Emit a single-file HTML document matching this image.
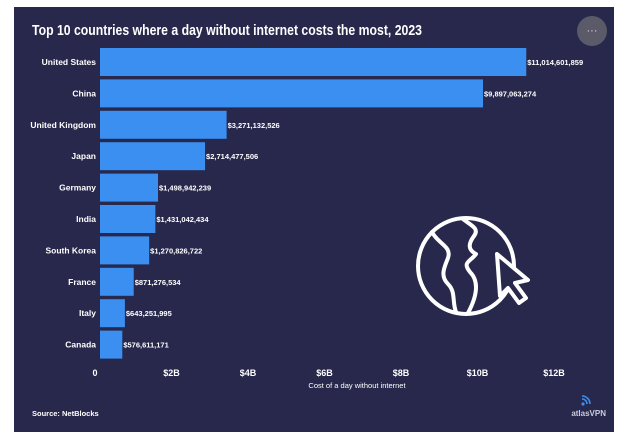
<!DOCTYPE html>
<html><head><meta charset="utf-8"><style>
html,body{margin:0;padding:0;background:#fff;width:624px;height:445px;overflow:hidden}
svg{display:block;font-family:"Liberation Sans",sans-serif}
</style></head><body>
<svg id="chart" width="624" height="445" viewBox="0 0 624 445">
<rect x="14" y="7" width="600" height="425" fill="#27284c"/>
<text x="32" y="35" fill="#fff" font-size="15" font-weight="bold" textLength="390" lengthAdjust="spacingAndGlyphs">Top 10 countries where a day without internet costs the most, 2023</text>
<g>
<circle cx="592" cy="31" r="15" fill="#5a5a68"/>
<text x="592" y="34" fill="#ddd" font-size="11" text-anchor="middle">···</text>
</g>
<g id="bars"></g>
<g id="ticks"></g>
<text x="357" y="388" fill="#fff" font-size="7.5" text-anchor="middle">Cost of a day without internet</text>
<text x="32" y="416" fill="#fff" font-size="7.5" font-weight="bold">Source: NetBlocks</text>
<g>
<circle cx="583" cy="404" r="1.6" fill="#3a8ff0"/>
<path d="M582 399 a5 5 0 0 1 5 5 M582 396 a8 8 0 0 1 8 8" stroke="#3a8ff0" stroke-width="1.6" fill="none"/>
<text x="606" y="416" fill="#ccd" font-size="8" font-weight="bold" text-anchor="end">atlasVPN</text>
</g>
<g fill="none" stroke="#fff" stroke-width="4" stroke-linejoin="round" stroke-linecap="round">
<circle cx="466" cy="266" r="48"/>
<path d="M463 219 C470 225 480 228 474 236 C468 244 468 250 476 254 C470 262 462 262 470 272 C480 282 476 298 468 313"/>
<path d="M432 232 C438 244 452 246 448 258 C444 268 440 276 448 284 C456 292 452 302 456 312"/>
<path d="M497 254 L528 280 L515 283 L526 298 L519 303 L508 288 L500 296 Z" fill="#27284c"/>
</g>
</svg>
<script>
const categories=["United States","China","United Kingdom","Japan","Germany","India","South Korea","France","Italy","Canada"];
const values=[11014601859,9897063274,3271132526,2714477506,1498942239,1431042434,1270826722,871276534,643251995,576611171];
const tickValues=[0,2,4,6,8,10,12];
const tickLabels=["0","$2B","$4B","$6B","$8B","$10B","$12B"];
const NS="http://www.w3.org/2000/svg";
function xBar(v){return 100+38.7*v/1e9;}
function xTick(b){return 95+38.25*b;}
function yRow(i){return 48+i*31.4;}
function fmt(v){return "$"+v.toLocaleString("en-US");}
const bars=document.getElementById("bars");
categories.forEach((c,i)=>{
 const y=yRow(i);
 const r=document.createElementNS(NS,"rect");
 r.setAttribute("x",100);r.setAttribute("y",y);
 r.setAttribute("width",xBar(values[i])-100);r.setAttribute("height",28);
 r.setAttribute("fill","#3a8ff0");
 
 
 bars.appendChild(r);
 const l=document.createElementNS(NS,"text");
 l.setAttribute("x",96);l.setAttribute("y",y+17);
 l.setAttribute("text-anchor","end");l.setAttribute("fill","#fff");
 l.setAttribute("font-size","8.5");l.setAttribute("font-weight","bold");
 l.textContent=c;
 
 
 bars.appendChild(l);
 const v=document.createElementNS(NS,"text");
 v.setAttribute("x",xBar(values[i])+1);v.setAttribute("y",y+17);
 v.setAttribute("fill","#fff");v.setAttribute("font-size","7.5");v.setAttribute("font-weight","bold");
 v.textContent=fmt(values[i]);
 
 
 bars.appendChild(v);
});
const ticks=document.getElementById("ticks");
tickValues.forEach((t,i)=>{
 const e=document.createElementNS(NS,"text");
 e.setAttribute("x",xTick(t));e.setAttribute("y",376);
 e.setAttribute("text-anchor","middle");e.setAttribute("fill","#fff");
 e.setAttribute("font-size","9");e.setAttribute("font-weight","bold");
 e.textContent=tickLabels[i];
 
 
 ticks.appendChild(e);
});
</script>
</body></html>
